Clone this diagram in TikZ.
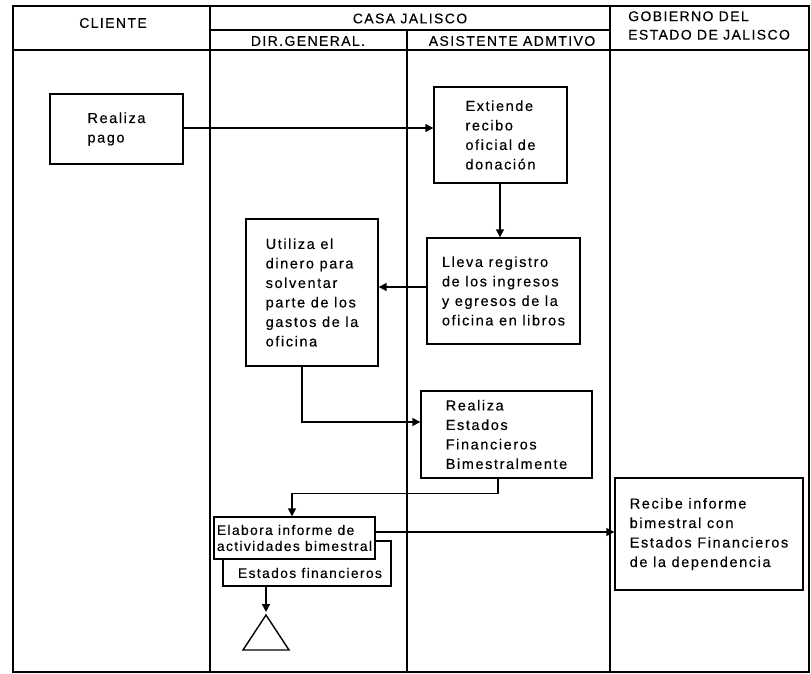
\documentclass[tikz,border=0pt]{standalone}
\usepackage{fontspec}
\setmainfont{Liberation Sans}
\newfontfamily\boxfont[LetterSpace=11,FakeBold=0.3]{Liberation Sans}
\newfontfamily\smallboxfont[LetterSpace=10,FakeBold=0.3]{Liberation Sans}
\newfontfamily\headfont[LetterSpace=10,FakeBold=0.3]{Liberation Sans}
\usetikzlibrary{arrows.meta}
\begin{document}
\begin{tikzpicture}[x=1pt,y=-1pt,
  lane/.style={line width=1.4pt},
  box/.style={draw, fill=white, line width=1.4pt, inner sep=0pt, align=left,
    font=\boxfont\fontsize{14.5}{19.5}\selectfont},
  smallbox/.style={box, font=\smallboxfont\fontsize{13.8}{16}\selectfont},
  arr/.style={line width=1.4pt, -{Triangle[length=8pt,width=8pt]}},
  head/.style={font=\headfont\fontsize{14}{18.5}\selectfont, inner sep=0pt}
]
\useasboundingbox (0,0) rectangle (811,674);
% frame and lanes
\draw[lane] (13,6) rectangle (809,672);
\draw[lane] (13,50) -- (809,50);
\draw[lane] (210,30) -- (610,30);
\draw[lane] (210,6) -- (210,672);
\draw[lane] (407,30) -- (407,672);
\draw[lane] (610,6) -- (610,672);
% headers
\node[head] (hcli) at (113,23) {CLIENTE};
\node[head] (hcasa) at (410,18.5) {CASA JALISCO};
\node[head] (hdir) at (308,41) {DIR.GENERAL.};
\node[head] (hasis) at (512,41) {ASISTENTE ADMTIVO};
\node[head, anchor=west, align=left] (hgob) at (628,25.5) {GOBIERNO DEL\\ESTADO DE JALISCO};
% boxes
\node[box, minimum width=133pt, minimum height=70pt] (pago) at (116.5,129) {Realiza\\pago};
\node[box, minimum width=133pt, minimum height=96pt] (recibo) at (500.5,135) {Extiende\\recibo\\oficial de\\donación};
\node[box, minimum width=153pt, minimum height=106pt] (lleva) at (503.5,291) {Lleva registro\\de los ingresos\\y egresos de la\\oficina en libros};
\node[box, minimum width=132pt, minimum height=147pt] (utiliza) at (312,292.5) {Utiliza el\\dinero para\\solventar\\parte de los\\gastos de la\\oficina};
\node[box, minimum width=171pt, minimum height=87pt] (estados) at (506.5,434.5) {Realiza\\Estados\\Financieros\\Bimestralmente};
\node[box, minimum width=168pt, minimum height=45pt] (doc) at (307,563.5) {};
\node[smallbox, draw=none, fill=none] (doctext) at (310,573) {Estados financieros};
\node[smallbox, minimum width=161pt, minimum height=42pt] (elabora) at (294.5,538) {Elabora informe de\\actividades bimestral};
\node[box, minimum width=188pt, minimum height=112pt] (recibe) at (709,534) {Recibe informe\\bimestral con\\Estados Financieros\\de la dependencia};
% triangle
\coordinate (tri) at (266,615);
\draw[line width=1.4pt, line join=miter] (tri) -- (289,650) -- (243,650) -- cycle;
% connectors
\draw[arr] ([yshift=1pt]pago.east) -- ([yshift=1pt]pago.east -| recibo.west);
\draw[arr] ([xshift=-0.5pt]recibo.south) -- ([xshift=-0.5pt]recibo.south |- lleva.north);
\draw[arr] ([yshift=4pt]lleva.west) -- ([yshift=4pt]lleva.west -| utiliza.east);
\draw[arr] ([xshift=-10pt]utiliza.south) |- ([yshift=12.5pt]estados.west);
\draw[arr] ([xshift=-8.5pt]estados.south) -- ++(0,15) -| ([xshift=-2.5pt]elabora.north);
\draw[arr] ([yshift=6pt]elabora.east) -- ([yshift=6pt]elabora.east -| recibe.west);
\draw[arr] (doc.south -| tri) -- ([yshift=3pt]tri);
\end{tikzpicture}
\end{document}
